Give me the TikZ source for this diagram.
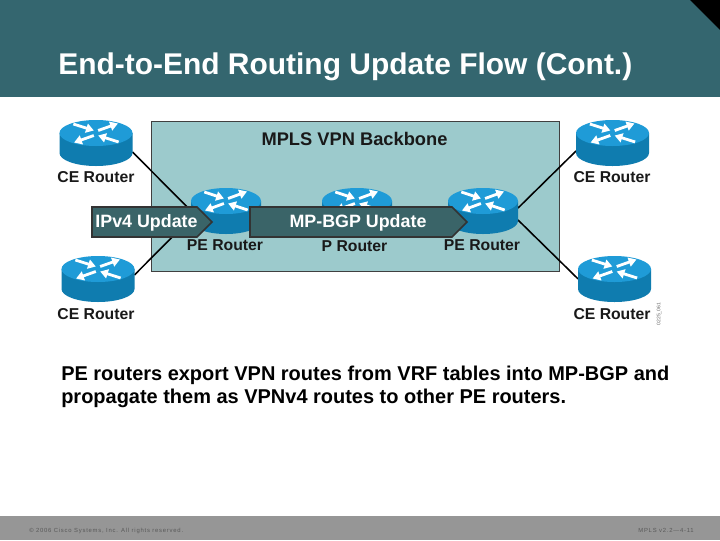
\documentclass[tikz,border=0pt]{standalone}
\usepackage{fontspec}
\usetikzlibrary{arrows.meta}
\setmainfont{Liberation Sans}
\definecolor{headteal}{HTML}{34666F}
\definecolor{boxteal}{HTML}{9CCACC}
\definecolor{arrowteal}{HTML}{3A6468}
\definecolor{routertop}{HTML}{1F9BD7}
\definecolor{routerside}{HTML}{0F7CAF}
\tikzset{
	routerbox/.style={minimum width=#1, minimum height=32.6pt, inner sep=0pt, outer sep=0pt},
	routerlabel/.style={font=\fontsize{11.2pt}{13pt}\bfseries, text=black!90, inner sep=0pt},
	updatebox/.style={fill=arrowteal, draw=black!80, line width=1.2pt, line join=miter},
	updatetext/.style={font=\fontsize{12.7pt}{14pt}\bfseries, text=white, inner sep=0pt},
	wire/.style={black, line width=1.1pt},
	routerarrow/.style={white, line width=2pt, -{Triangle[width=6.5pt, length=5.5pt]}},
	smallprint/.style={text=black!65, inner sep=0pt, font=\fontsize{4.2pt}{5pt}\selectfont\addfontfeature{LetterSpace=13}},
}
\begin{document}
\begin{tikzpicture}[x=0.025cm, y=-0.025cm]
	\useasboundingbox (0,0) rectangle (720,540);
	\fill[white] (0,0) rectangle (720,540);
	\fill[headteal] (0,0) rectangle (720,97);
	\fill[black] (690,0) -- (720,0) -- (720,30) -- cycle;
	\fill[black!41] (0,516) rectangle (720,540);
	\node[anchor=base west, text=white, inner sep=0pt, font=\fontsize{21.3pt}{24pt}\bfseries] (title) at (58,74) {End-to-End Routing Update Flow (Cont.)};
	\node[anchor=base west, smallprint] (copyright) at (29,532) {© 2006 Cisco Systems, Inc. All rights reserved.};
	\node[anchor=base east, smallprint] (course) at (694,532) {MPLS v2.2—4-11};
	\node[draw=black!75, line width=0.9pt, fill=boxteal, minimum width=408*0.71pt, minimum height=150*0.71pt, inner sep=0pt] (backbone) at (355.5,196.5) {};
	\node[anchor=base, routerlabel, font=\fontsize{13pt}{15pt}\bfseries] (backbonetitle) at (354.5,145) {MPLS VPN Backbone};
	% routers: name / centre x / top y / width
	\foreach \name/\x/\y/\w in {ceA/96/120/73, ceB/98/256/73, ceC/612.5/120/73, ceD/614.5/256/73, peA/226/188/70, pR/357/188/70, peB/483/188/70} {
		\node[routerbox=\w*0.71pt, anchor=north] (\name) at (\x,\y) {};
	}
	\draw[wire] ([yshift=-6.4pt]ceA.east) -- (peA.west);
	\draw[wire] ([yshift=2.8pt]ceB.east) -- ([yshift=-5pt]peA.west);
	\draw[wire] ([yshift=2pt]peB.east) -- ([yshift=-5.7pt]ceC.west);
	\draw[wire] ([yshift=-6.4pt]peB.east) -- (ceD.west);
	\foreach \x/\y/\w in {96/120/73, 98/256/73, 612.5/120/73, 614.5/256/73, 226/188/70, 357/188/70, 483/188/70} {
		\begin{scope}[shift={(\x,\y)}, x=\w*0.0125cm, y=-0.025cm]
			\fill[routerside] (-1,13) -- (-1,33) arc[start angle=180, end angle=0, x radius=1, y radius=13] -- (1,13) -- cycle;
			\fill[routertop] (0,13) ellipse[x radius=1, y radius=13];
			\draw[routerarrow] (-0.62,4) -- (-0.06,10.5);
			\draw[routerarrow] (0.06,10.5) -- (0.6,3.5);
			\draw[routerarrow] (-0.06,15.5) -- (-0.6,22.5);
			\draw[routerarrow] (0.62,22) -- (0.06,15.5);
		\end{scope}
	}
	\foreach \name/\x/\y/\t in {ceAl/96/182/CE Router, ceBl/96/319/CE Router, ceCl/612/182/CE Router, ceDl/612/319/CE Router, peAl/225/250/PE Router, pRl/354.5/251/P Router, peBl/482/250/PE Router} {
		\node[routerlabel, anchor=base] (\name) at (\x,\y) {\t};
	}
	\path[updatebox] (92,207) -- (197,207) -- (212,222) -- (197,237) -- (92,237) -- cycle;
	\path[updatebox] (250,207) -- (452,207) -- (467,222) -- (452,237) -- (250,237) -- cycle;
	\node[updatetext, anchor=base] (ipv4) at (146.5,227) {IPv4 Update};
	\node[updatetext, anchor=base] (mpbgp) at (358,227) {MP-BGP Update};
	\node[anchor=north west, align=left, inner sep=0pt, text=black, font=\fontsize{14.2pt}{16.3pt}\bfseries] (body) at (61,366) {PE routers export VPN routes from VRF tables into MP-BGP and\\propagate them as VPNv4 routes to other PE routers.};
	\node[rotate=90, inner sep=0pt, text=black!60, font=\fontsize{3.6pt}{4pt}\selectfont] (stamp) at (659,314) {0225\_061};
\end{tikzpicture}
\end{document}
